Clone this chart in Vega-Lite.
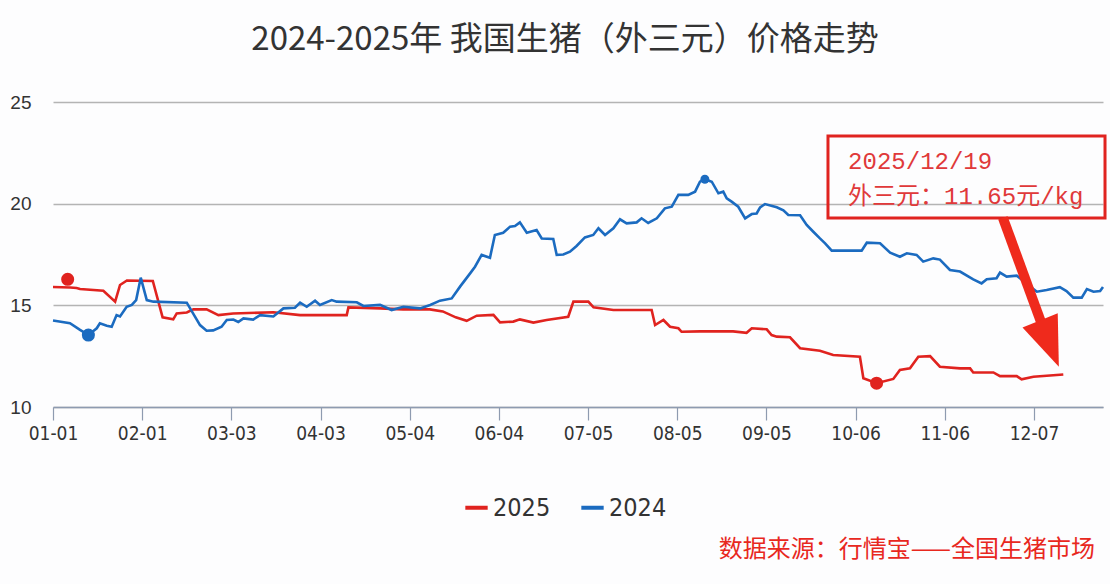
{
  "$schema": "https://vega.github.io/schema/vega-lite/v6.json",
  "width": 1050,
  "height": 305,
  "autosize": {"type": "none"},
  "padding": {"left": 53, "top": 102, "right": 7, "bottom": 177},
  "background": "#fdfdfe",
  "title": {
    "text": "2024-2025年 我国生猪（外三元）价格走势",
    "fontSize": 33,
    "font": "Noto Sans CJK SC",
    "fontWeight": "normal",
    "color": "#333333",
    "anchor": "middle",
    "offset": 36,
    "dx": -13
  },
  "datasets": {
    "prices": [
      {"day": 0, "price": 15.9, "year": "2025"},
      {"day": 6, "price": 15.88, "year": "2025"},
      {"day": 8.2, "price": 15.85, "year": "2025"},
      {"day": 9.4, "price": 15.8, "year": "2025"},
      {"day": 17.5, "price": 15.72, "year": "2025"},
      {"day": 21.6, "price": 15.18, "year": "2025"},
      {"day": 23.3, "price": 16.0, "year": "2025"},
      {"day": 25.7, "price": 16.22, "year": "2025"},
      {"day": 34.7, "price": 16.2, "year": "2025"},
      {"day": 38.1, "price": 14.41, "year": "2025"},
      {"day": 41.8, "price": 14.31, "year": "2025"},
      {"day": 43, "price": 14.6, "year": "2025"},
      {"day": 46.5, "price": 14.65, "year": "2025"},
      {"day": 48.8, "price": 14.8, "year": "2025"},
      {"day": 53.4, "price": 14.8, "year": "2025"},
      {"day": 57.5, "price": 14.52, "year": "2025"},
      {"day": 62.6, "price": 14.6, "year": "2025"},
      {"day": 76.6, "price": 14.66, "year": "2025"},
      {"day": 85.9, "price": 14.52, "year": "2025"},
      {"day": 102.1, "price": 14.52, "year": "2025"},
      {"day": 102.7, "price": 14.9, "year": "2025"},
      {"day": 113.7, "price": 14.85, "year": "2025"},
      {"day": 121.7, "price": 14.8, "year": "2025"},
      {"day": 131, "price": 14.8, "year": "2025"},
      {"day": 135.5, "price": 14.7, "year": "2025"},
      {"day": 140, "price": 14.41, "year": "2025"},
      {"day": 143.8, "price": 14.24, "year": "2025"},
      {"day": 147.3, "price": 14.49, "year": "2025"},
      {"day": 153.1, "price": 14.53, "year": "2025"},
      {"day": 155.4, "price": 14.16, "year": "2025"},
      {"day": 160, "price": 14.2, "year": "2025"},
      {"day": 162.3, "price": 14.31, "year": "2025"},
      {"day": 167, "price": 14.15, "year": "2025"},
      {"day": 171.6, "price": 14.28, "year": "2025"},
      {"day": 179.1, "price": 14.44, "year": "2025"},
      {"day": 180.9, "price": 15.18, "year": "2025"},
      {"day": 186.1, "price": 15.18, "year": "2025"},
      {"day": 187.9, "price": 14.9, "year": "2025"},
      {"day": 194.8, "price": 14.77, "year": "2025"},
      {"day": 208.1, "price": 14.77, "year": "2025"},
      {"day": 209.3, "price": 14.03, "year": "2025"},
      {"day": 212.2, "price": 14.28, "year": "2025"},
      {"day": 214.5, "price": 13.95, "year": "2025"},
      {"day": 217.4, "price": 13.87, "year": "2025"},
      {"day": 218.5, "price": 13.7, "year": "2025"},
      {"day": 224.9, "price": 13.72, "year": "2025"},
      {"day": 236.4, "price": 13.72, "year": "2025"},
      {"day": 241.1, "price": 13.65, "year": "2025"},
      {"day": 242.9, "price": 13.87, "year": "2025"},
      {"day": 248.1, "price": 13.82, "year": "2025"},
      {"day": 249.8, "price": 13.54, "year": "2025"},
      {"day": 251.6, "price": 13.46, "year": "2025"},
      {"day": 256.2, "price": 13.43, "year": "2025"},
      {"day": 259.7, "price": 12.89, "year": "2025"},
      {"day": 266.6, "price": 12.77, "year": "2025"},
      {"day": 271.2, "price": 12.56, "year": "2025"},
      {"day": 280.5, "price": 12.47, "year": "2025"},
      {"day": 281.7, "price": 11.41, "year": "2025"},
      {"day": 286.3, "price": 11.17, "year": "2025"},
      {"day": 292.1, "price": 11.38, "year": "2025"},
      {"day": 294.4, "price": 11.82, "year": "2025"},
      {"day": 297.9, "price": 11.9, "year": "2025"},
      {"day": 300.8, "price": 12.47, "year": "2025"},
      {"day": 304.9, "price": 12.5, "year": "2025"},
      {"day": 308.3, "price": 11.98, "year": "2025"},
      {"day": 315.3, "price": 11.9, "year": "2025"},
      {"day": 318.8, "price": 11.9, "year": "2025"},
      {"day": 319.9, "price": 11.7, "year": "2025"},
      {"day": 326.9, "price": 11.7, "year": "2025"},
      {"day": 329.2, "price": 11.52, "year": "2025"},
      {"day": 335, "price": 11.52, "year": "2025"},
      {"day": 336.7, "price": 11.36, "year": "2025"},
      {"day": 340.8, "price": 11.49, "year": "2025"},
      {"day": 351.2, "price": 11.6, "year": "2025"},
      {"day": 0, "price": 14.25, "year": "2024"},
      {"day": 5.9, "price": 14.12, "year": "2024"},
      {"day": 9.4, "price": 13.79, "year": "2024"},
      {"day": 12.3, "price": 13.54, "year": "2024"},
      {"day": 15.2, "price": 13.87, "year": "2024"},
      {"day": 16.3, "price": 14.12, "year": "2024"},
      {"day": 18.7, "price": 14.0, "year": "2024"},
      {"day": 20.4, "price": 13.95, "year": "2024"},
      {"day": 22.1, "price": 14.52, "year": "2024"},
      {"day": 23.3, "price": 14.45, "year": "2024"},
      {"day": 25.6, "price": 14.93, "year": "2024"},
      {"day": 27.4, "price": 15.02, "year": "2024"},
      {"day": 28.9, "price": 15.26, "year": "2024"},
      {"day": 30.5, "price": 16.36, "year": "2024"},
      {"day": 32.6, "price": 15.26, "year": "2024"},
      {"day": 34.9, "price": 15.18, "year": "2024"},
      {"day": 46.5, "price": 15.13, "year": "2024"},
      {"day": 51.1, "price": 14.03, "year": "2024"},
      {"day": 53.4, "price": 13.75, "year": "2024"},
      {"day": 55.7, "price": 13.77, "year": "2024"},
      {"day": 58.6, "price": 13.95, "year": "2024"},
      {"day": 60.4, "price": 14.28, "year": "2024"},
      {"day": 62.7, "price": 14.3, "year": "2024"},
      {"day": 64.4, "price": 14.18, "year": "2024"},
      {"day": 66.2, "price": 14.36, "year": "2024"},
      {"day": 69.6, "price": 14.3, "year": "2024"},
      {"day": 72, "price": 14.52, "year": "2024"},
      {"day": 76.6, "price": 14.45, "year": "2024"},
      {"day": 80.1, "price": 14.85, "year": "2024"},
      {"day": 84.1, "price": 14.88, "year": "2024"},
      {"day": 85.9, "price": 15.13, "year": "2024"},
      {"day": 88.2, "price": 14.93, "year": "2024"},
      {"day": 91.1, "price": 15.23, "year": "2024"},
      {"day": 92.8, "price": 15.02, "year": "2024"},
      {"day": 96.9, "price": 15.26, "year": "2024"},
      {"day": 98.6, "price": 15.18, "year": "2024"},
      {"day": 105.6, "price": 15.15, "year": "2024"},
      {"day": 107.9, "price": 14.97, "year": "2024"},
      {"day": 113.7, "price": 15.02, "year": "2024"},
      {"day": 117.7, "price": 14.77, "year": "2024"},
      {"day": 121.8, "price": 14.93, "year": "2024"},
      {"day": 127.6, "price": 14.85, "year": "2024"},
      {"day": 131.1, "price": 15.02, "year": "2024"},
      {"day": 134.5, "price": 15.23, "year": "2024"},
      {"day": 138.6, "price": 15.34, "year": "2024"},
      {"day": 141.5, "price": 15.92, "year": "2024"},
      {"day": 145, "price": 16.57, "year": "2024"},
      {"day": 146.7, "price": 16.9, "year": "2024"},
      {"day": 149, "price": 17.48, "year": "2024"},
      {"day": 151.9, "price": 17.34, "year": "2024"},
      {"day": 153.6, "price": 18.46, "year": "2024"},
      {"day": 156.5, "price": 18.57, "year": "2024"},
      {"day": 158.9, "price": 18.87, "year": "2024"},
      {"day": 160.6, "price": 18.9, "year": "2024"},
      {"day": 162.3, "price": 19.08, "year": "2024"},
      {"day": 164.7, "price": 18.57, "year": "2024"},
      {"day": 168.1, "price": 18.7, "year": "2024"},
      {"day": 169.9, "price": 18.29, "year": "2024"},
      {"day": 173.9, "price": 18.26, "year": "2024"},
      {"day": 175.1, "price": 17.48, "year": "2024"},
      {"day": 177.4, "price": 17.5, "year": "2024"},
      {"day": 179.7, "price": 17.64, "year": "2024"},
      {"day": 182, "price": 17.92, "year": "2024"},
      {"day": 184.9, "price": 18.34, "year": "2024"},
      {"day": 187.8, "price": 18.46, "year": "2024"},
      {"day": 189.6, "price": 18.79, "year": "2024"},
      {"day": 191.9, "price": 18.46, "year": "2024"},
      {"day": 194.8, "price": 18.79, "year": "2024"},
      {"day": 197.1, "price": 19.23, "year": "2024"},
      {"day": 199.4, "price": 19.03, "year": "2024"},
      {"day": 202.9, "price": 19.08, "year": "2024"},
      {"day": 204.6, "price": 19.28, "year": "2024"},
      {"day": 206.9, "price": 19.05, "year": "2024"},
      {"day": 209.9, "price": 19.28, "year": "2024"},
      {"day": 212.7, "price": 19.77, "year": "2024"},
      {"day": 215.1, "price": 19.85, "year": "2024"},
      {"day": 217.4, "price": 20.43, "year": "2024"},
      {"day": 220.8, "price": 20.43, "year": "2024"},
      {"day": 223.2, "price": 20.59, "year": "2024"},
      {"day": 224.9, "price": 21.08, "year": "2024"},
      {"day": 226.6, "price": 21.2, "year": "2024"},
      {"day": 229, "price": 21.08, "year": "2024"},
      {"day": 231.3, "price": 20.51, "year": "2024"},
      {"day": 233, "price": 20.59, "year": "2024"},
      {"day": 234.2, "price": 20.26, "year": "2024"},
      {"day": 235.9, "price": 20.1, "year": "2024"},
      {"day": 238.2, "price": 19.85, "year": "2024"},
      {"day": 240.6, "price": 19.28, "year": "2024"},
      {"day": 242.9, "price": 19.49, "year": "2024"},
      {"day": 244.6, "price": 19.52, "year": "2024"},
      {"day": 245.8, "price": 19.82, "year": "2024"},
      {"day": 247.5, "price": 19.98, "year": "2024"},
      {"day": 251.6, "price": 19.82, "year": "2024"},
      {"day": 253.9, "price": 19.67, "year": "2024"},
      {"day": 255.6, "price": 19.44, "year": "2024"},
      {"day": 259.7, "price": 19.43, "year": "2024"},
      {"day": 262, "price": 18.95, "year": "2024"},
      {"day": 264.3, "price": 18.62, "year": "2024"},
      {"day": 266.6, "price": 18.29, "year": "2024"},
      {"day": 268.4, "price": 18.05, "year": "2024"},
      {"day": 270.7, "price": 17.69, "year": "2024"},
      {"day": 281.1, "price": 17.69, "year": "2024"},
      {"day": 282.9, "price": 18.08, "year": "2024"},
      {"day": 287.5, "price": 18.05, "year": "2024"},
      {"day": 291, "price": 17.59, "year": "2024"},
      {"day": 294.4, "price": 17.39, "year": "2024"},
      {"day": 296.8, "price": 17.56, "year": "2024"},
      {"day": 300.2, "price": 17.48, "year": "2024"},
      {"day": 302.5, "price": 17.15, "year": "2024"},
      {"day": 306, "price": 17.31, "year": "2024"},
      {"day": 308.3, "price": 17.25, "year": "2024"},
      {"day": 311.8, "price": 16.74, "year": "2024"},
      {"day": 315.3, "price": 16.66, "year": "2024"},
      {"day": 319.9, "price": 16.28, "year": "2024"},
      {"day": 322.8, "price": 16.08, "year": "2024"},
      {"day": 324.6, "price": 16.28, "year": "2024"},
      {"day": 328, "price": 16.33, "year": "2024"},
      {"day": 329.2, "price": 16.61, "year": "2024"},
      {"day": 331.5, "price": 16.41, "year": "2024"},
      {"day": 335, "price": 16.46, "year": "2024"},
      {"day": 342, "price": 15.67, "year": "2024"},
      {"day": 345.4, "price": 15.75, "year": "2024"},
      {"day": 350, "price": 15.89, "year": "2024"},
      {"day": 352.3, "price": 15.7, "year": "2024"},
      {"day": 354.7, "price": 15.38, "year": "2024"},
      {"day": 357.6, "price": 15.38, "year": "2024"},
      {"day": 359.4, "price": 15.8, "year": "2024"},
      {"day": 361.7, "price": 15.67, "year": "2024"},
      {"day": 364, "price": 15.7, "year": "2024"},
      {"day": 365, "price": 15.9, "year": "2024"}
    ],
    "markers": [
      {"day": 5.1, "price": 16.28, "year": "2025"},
      {"day": 12.3, "price": 13.54, "year": "2024"},
      {"day": 226.6, "price": 21.2, "year": "2024"},
      {"day": 286.3, "price": 11.17, "year": "2025"}
    ]
  },
  "layer": [
    {
      "data": {"name": "prices"},
      "mark": {"type": "line", "strokeWidth": 2.6, "interpolate": "linear"},
      "encoding": {
        "x": {
          "field": "day",
          "type": "quantitative",
          "scale": {"domain": [0, 365], "nice": false, "zero": false},
          "axis": {
            "title": null,
            "values": [0, 31, 62, 93, 124, 155, 186, 217, 248, 279, 310, 341],
            "labelExpr": "['01-01','02-01','03-03','04-03','05-04','06-04','07-05','08-05','09-05','10-06','11-06','12-07'][round(datum.value/31)]",
            "grid": false,
            "domainColor": "#8e9bb0",
            "domainWidth": 1.5,
            "tickColor": "#8e9bb0",
            "tickSize": 13,
            "tickWidth": 1.2,
            "labelFont": "Liberation Sans Narrow, DejaVu Sans Condensed, Liberation Sans, sans-serif",
            "labelFontSize": 19,
            "labelColor": "#333333",
            "labelPadding": 4,
            "labelFlush": false,
            "labelOverlap": false
          }
        },
        "y": {
          "field": "price",
          "type": "quantitative",
          "scale": {"domain": [10, 25], "nice": false, "zero": false},
          "axis": {
            "title": null,
            "values": [10, 15, 20, 25],
            "grid": true,
            "gridColor": "#b4b4b4",
            "gridWidth": 1.3,
            "domain": false,
            "ticks": false,
            "labelFont": "Liberation Sans, sans-serif",
            "labelFontSize": 19,
            "labelColor": "#333333",
            "labelPadding": 22
          }
        },
        "color": {
          "field": "year",
          "type": "nominal",
          "scale": {"domain": ["2025", "2024"], "range": ["#e0231f", "#1b6bc0"]},
          "legend": {
            "orient": "none",
            "legendX": 410,
            "legendY": 392,
            "direction": "horizontal",
            "title": null,
            "symbolType": "stroke",
            "symbolStrokeWidth": 4,
            "symbolSize": 500,
            "labelFont": "Liberation Sans Narrow, DejaVu Sans Condensed, Liberation Sans, sans-serif",
            "labelFontSize": 25,
            "labelColor": "#333333",
            "labelOffset": 3,
            "columnPadding": 22
          }
        }
      }
    },
    {
      "data": {"name": "markers"},
      "transform": [{"filter": "datum.price < 20"}],
      "mark": {"type": "point", "filled": true, "opacity": 1, "size": 170},
      "encoding": {
        "x": {"field": "day", "type": "quantitative"},
        "y": {"field": "price", "type": "quantitative"},
        "color": {"field": "year", "type": "nominal"}
      }
    },
    {
      "data": {"name": "markers"},
      "transform": [{"filter": "datum.price >= 20"}],
      "mark": {"type": "point", "filled": true, "opacity": 1, "size": 80},
      "encoding": {
        "x": {"field": "day", "type": "quantitative"},
        "y": {"field": "price", "type": "quantitative"},
        "color": {"field": "year", "type": "nominal"}
      }
    },
    {
      "data": {"values": [{}]},
      "mark": {"type": "rect", "fill": null, "fillOpacity": 0, "stroke": "#e0231f", "strokeWidth": 3},
      "encoding": {
        "x": {"datum": 269.4},
        "x2": {"datum": 365.7},
        "y": {"datum": 23.33},
        "y2": {"datum": 19.3}
      }
    },
    {
      "data": {"values": [{}]},
      "mark": {"type": "text", "align": "left", "baseline": "middle", "font": "Liberation Mono, Noto Sans CJK SC", "fontSize": 24, "color": "#e0393a"},
      "encoding": {
        "x": {"datum": 276.4},
        "y": {"datum": 22.05},
        "text": {"value": "2025/12/19"}
      }
    },
    {
      "data": {"values": [{}]},
      "mark": {"type": "text", "align": "left", "baseline": "middle", "font": "Liberation Mono, Noto Sans CJK SC", "fontSize": 24, "color": "#e0393a"},
      "encoding": {
        "x": {"datum": 276.4},
        "y": {"datum": 20.33},
        "text": {"value": "外三元：11.65元/kg"}
      }
    },
    {
      "data": {"values": [{}]},
      "mark": {"type": "rule", "color": "#ef2a1c", "strokeWidth": 10},
      "encoding": {
        "x": {"datum": 330.2},
        "x2": {"datum": 343.4},
        "y": {"datum": 19.3},
        "y2": {"datum": 14.2}
      }
    },
    {
      "data": {"values": [{}]},
      "mark": {"type": "point", "filled": true, "opacity": 1, "color": "#ef2a1c", "shape": "M-0.76,-1L0.76,-1L0,1Z", "size": 2500, "angle": 338},
      "encoding": {
        "x": {"datum": 346.4},
        "y": {"datum": 13.12}
      }
    },
    {
      "data": {"values": [{}]},
      "mark": {"type": "text", "align": "right", "baseline": "middle", "font": "Noto Sans CJK SC", "fontSize": 24, "color": "#e8281e"},
      "encoding": {
        "x": {"datum": 362.2},
        "y": {"datum": 2.97},
        "text": {"value": "数据来源：行情宝——全国生猪市场"}
      }
    }
  ],
  "config": {
    "view": {"stroke": null}
  }
}
